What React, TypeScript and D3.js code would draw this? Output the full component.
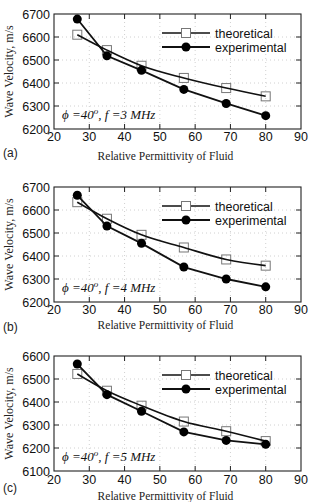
import * as d3 from "d3";

// relative permittivity of the test fluids (shared x positions)
const permittivity = [26.6, 35, 44.8, 56.8, 68.8, 80];

// wave velocity, m/s
const theoretical3MHz = [6610, 6543, 6475, 6422, 6378, 6342];
const experimental3MHz = [6678, 6518, 6455, 6372, 6311, 6258];
const theoretical4MHz = [6634, 6562, 6492, 6437, 6385, 6358];
const experimental4MHz = [6664, 6530, 6455, 6352, 6300, 6266];
const theoretical5MHz = [6522, 6449, 6384, 6315, 6273, 6230];
const experimental5MHz = [6565, 6432, 6360, 6270, 6233, 6216];

const xTicks = [20, 30, 40, 50, 60, 70, 80, 90];
const yTicks3 = [6200, 6300, 6400, 6500, 6600, 6700];
const yTicks5 = [6100, 6200, 6300, 6400, 6500, 6600];
const frequencies = ["3", "4", "5"];
const panelTags = ["(a)", "(b)", "(c)"];

const W = 309;
const H = 502;
const left = 54;
const right = 301;
const plotH = 115;

const panels = [
  { top: 14, theo: theoretical3MHz, exp: experimental3MHz, yTicks: yTicks3, tickY: 141, titleY: 160, tagY: 157 },
  { top: 187, theo: theoretical4MHz, exp: experimental4MHz, yTicks: yTicks3, tickY: 314, titleY: 329, tagY: 331 },
  { top: 356, theo: theoretical5MHz, exp: experimental5MHz, yTicks: yTicks5, tickY: 484, titleY: 500, tagY: 492 },
];

const sans = "'Liberation Sans', Arial, sans-serif";
const serif = "'Liberation Serif', 'Times New Roman', serif";

function Panel({ idx }: { idx: number }) {
  const p = panels[idx];
  const bottom = p.top + plotH;
  const x = d3.scaleLinear().domain([20, 90]).range([left, right]);
  const y = d3
    .scaleLinear()
    .domain([p.yTicks[0], p.yTicks[p.yTicks.length - 1]])
    .range([bottom, p.top]);

  const theoLine = d3
    .line<number>()
    .x((_, i) => x(permittivity[i]))
    .y((d) => y(d))
    .curve(d3.curveMonotoneX);
  const expLine = d3
    .line<number>()
    .x((_, i) => x(permittivity[i]))
    .y((d) => y(d));

  const legX0 = 162;
  const legX1 = 210;
  const legMid = (legX0 + legX1) / 2;
  const leg1 = p.top + 19;
  const leg2 = p.top + 33;

  return (
    <g>
      {/* dotted grid */}
      {xTicks.slice(1, -1).map((t) => (
        <line key={"gx" + t} x1={x(t)} x2={x(t)} y1={p.top} y2={bottom}
          stroke="#c4c4c4" strokeWidth={0.8} strokeDasharray="1,3" />
      ))}
      {p.yTicks.slice(1, -1).map((t) => (
        <line key={"gy" + t} x1={left} x2={right} y1={y(t)} y2={y(t)}
          stroke="#c4c4c4" strokeWidth={0.8} strokeDasharray="1,3" />
      ))}

      {/* inner ticks */}
      {xTicks.slice(1, -1).map((t) => (
        <g key={"tx" + t} stroke="#222" strokeWidth={1}>
          <line x1={x(t)} x2={x(t)} y1={bottom} y2={bottom - 5} />
          <line x1={x(t)} x2={x(t)} y1={p.top} y2={p.top + 5} />
        </g>
      ))}
      {p.yTicks.slice(1, -1).map((t) => (
        <g key={"ty" + t} stroke="#222" strokeWidth={1}>
          <line x1={left} x2={left + 5} y1={y(t)} y2={y(t)} />
          <line x1={right} x2={right - 5} y1={y(t)} y2={y(t)} />
        </g>
      ))}

      <rect x={left} y={p.top} width={right - left} height={plotH}
        fill="none" stroke="#222" strokeWidth={1.1} />

      {/* tick labels */}
      {xTicks.map((t) => (
        <text key={"lx" + t} x={x(t)} y={p.tickY} textAnchor="middle"
          fontFamily={sans} fontSize={12.5} fill="#111">{t}</text>
      ))}
      {p.yTicks.map((t) => (
        <text key={"ly" + t} x={left - 4} y={y(t) + 4.5} textAnchor="end"
          fontFamily={sans} fontSize={12.5} fill="#111">{t}</text>
      ))}

      {/* data */}
      {p.theo.map((v, i) => (
        <rect key={"sq" + i} x={x(permittivity[i]) - 4.5} y={y(v) - 4.5}
          width={9} height={9} fill="none" stroke="#777" strokeWidth={1} />
      ))}
      <path d={theoLine(p.theo) ?? ""} fill="none" stroke="#111" strokeWidth={1.6} />
      <path d={expLine(p.exp) ?? ""} fill="none" stroke="#111" strokeWidth={1.8} />
      {p.exp.map((v, i) => (
        <circle key={"c" + i} cx={x(permittivity[i])} cy={y(v)} r={4.5} fill="#000" />
      ))}

      {/* legend */}
      <line x1={legX0} x2={legX1} y1={leg1} y2={leg1} stroke="#111" strokeWidth={1.6} />
      <rect x={legMid - 4.5} y={leg1 - 4.5} width={9} height={9}
        fill="#fff" stroke="#777" strokeWidth={1} />
      <text x={legX1 + 5} y={leg1 + 4.5} fontFamily={sans} fontSize={12.5} fill="#111">theoretical</text>
      <line x1={legX0} x2={legX1} y1={leg2} y2={leg2} stroke="#111" strokeWidth={1.8} />
      <circle cx={legMid} cy={leg2} r={4.5} fill="#000" />
      <text x={legX1 + 5} y={leg2 + 4.5} fontFamily={sans} fontSize={12.5} fill="#111">experimental</text>

      {/* condition note */}
      <text x={62} y={bottom - 10} fontFamily={serif} fontStyle="italic" fontSize={13} fill="#111">
        ϕ =40<tspan dy={-5} fontSize={9}>o</tspan>
        <tspan dy={5}>, f =</tspan>
        {frequencies[idx]} MHz
      </text>

      {/* axis titles */}
      <text transform={`translate(13,${(p.top + bottom) / 2}) rotate(-90)`} textAnchor="middle"
        fontFamily={serif} fontSize={12} fill="#222">Wave Velocity, m/s</text>
      <text x={(left + right) / 2 - 12} y={p.titleY} textAnchor="middle"
        fontFamily={serif} fontSize={11.5} fill="#222">Relative Permittivity of Fluid</text>
      <text x={3} y={p.tagY} fontFamily={sans} fontSize={12} fill="#222">{panelTags[idx]}</text>
    </g>
  );
}

export default function App() {
  return (
    <svg width={W} height={H} style={{ position: "absolute", left: 0, top: 0, background: "#fff" }}>
      {panels.map((_, i) => (
        <Panel key={i} idx={i} />
      ))}
    </svg>
  );
}
